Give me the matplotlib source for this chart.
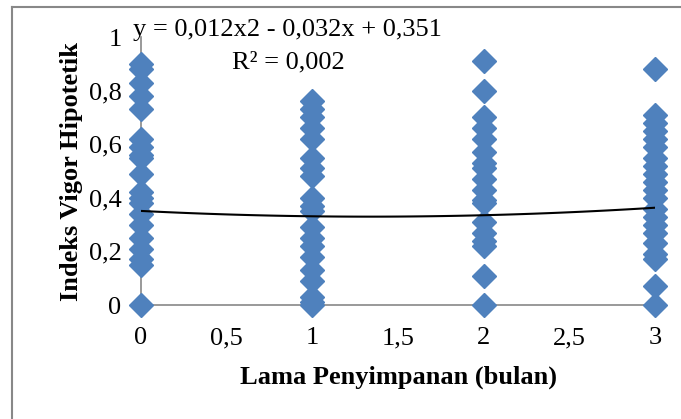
import numpy as np
import matplotlib
matplotlib.use("Agg")
import matplotlib.pyplot as plt
from matplotlib.lines import Line2D

plt.rcParams['font.family'] = ['Liberation Serif', 'DejaVu Serif']

# data
x0 = [0.90, 0.88, 0.83, 0.78, 0.73, 0.62, 0.59, 0.56, 0.55, 0.49, 0.42, 0.40, 0.38,
      0.34, 0.30, 0.25, 0.21, 0.17, 0.15, 0.0]
x1 = [0.76, 0.73, 0.70, 0.66, 0.62, 0.55, 0.51, 0.48, 0.40, 0.37, 0.35, 0.29, 0.25,
      0.22, 0.18, 0.13, 0.09, 0.03, 0.01, 0.0]
x2 = [0.91, 0.80, 0.70, 0.66, 0.62, 0.57, 0.53, 0.51, 0.47, 0.43, 0.39, 0.38, 0.31,
      0.27, 0.24, 0.22, 0.11, 0.0]
x3 = [0.88, 0.71, 0.68, 0.65, 0.62, 0.59, 0.55, 0.52, 0.49, 0.46, 0.43, 0.40, 0.36,
      0.33, 0.30, 0.27, 0.23, 0.19, 0.17, 0.07, 0.0]
months = [0, 1, 2, 3]
trend_coef = [0.012, -0.032, 0.351]   # y = 0,012x2 - 0,032x + 0,351

fig = plt.figure(figsize=(6.81, 4.19), dpi=100)
ax = fig.add_axes([141 / 681, 1 - 305 / 419, 514 / 681, 268 / 419])

for m, vals in zip(months, [x0, x1, x2, x3]):
    ax.plot([m] * len(vals), vals, linestyle='none', marker='D', ms=12.5,
            color='#4F81BD', clip_on=False, zorder=3)

xs = np.linspace(0, 3, 100)
ax.plot(xs, np.polyval(trend_coef, xs), color='black', lw=1.5, zorder=4)

ax.set_xlim(0, 3)
ax.set_ylim(0, 1)
ax.set_xticks([0, 0.5, 1, 1.5, 2, 2.5, 3])
ax.set_xticklabels(['0', '0,5', '1', '1,5', '2', '2,5', '3'])
ax.set_yticks([0, 0.2, 0.4, 0.6, 0.8, 1])
ax.set_yticklabels(['0', '0,2', '0,4', '0,6', '0,8', '1'])
ax.tick_params(length=0, labelsize=19)
ax.tick_params(axis='x', pad=16)
ax.tick_params(axis='y', pad=14)

for s in ['top', 'right']:
    ax.spines[s].set_visible(False)
for s in ['left', 'bottom']:
    ax.spines[s].set_color('#888888')
    ax.spines[s].set_linewidth(1.2)

ax.set_xlabel('Lama Penyimpanan (bulan)', fontsize=19, fontweight='bold', labelpad=12)
ax.set_ylabel('Indeks Vigor Hipotetik', fontsize=19, fontweight='bold', labelpad=4)

fig.text(133 / 681, 1 - 30 / 419, 'y = 0,012x2 - 0,032x + 0,351', fontsize=19,
         va='center', ha='left')
fig.text(232 / 681, 1 - 62 / 419, 'R² = 0,002', fontsize=19, va='center', ha='left')

# outer chart border (only top and left edges visible in the crop)
fig.add_artist(Line2D([12 / 681, 12 / 681], [0, 1 - 7 / 419], transform=fig.transFigure,
                      color='#888888', lw=1.5))
fig.add_artist(Line2D([12 / 681, 1], [1 - 7 / 419, 1 - 7 / 419], transform=fig.transFigure,
                      color='#888888', lw=1.5))

fig.savefig('out.png', dpi=100)
